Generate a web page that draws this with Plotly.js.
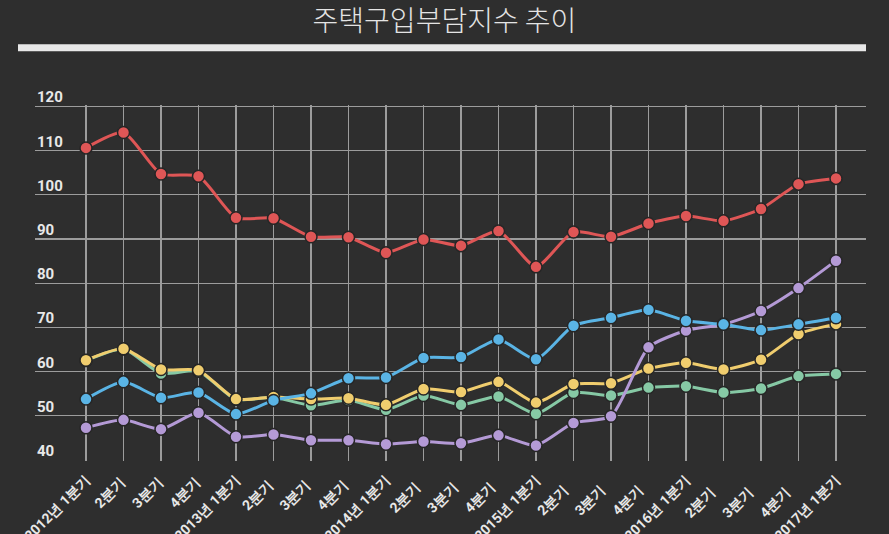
<!DOCTYPE html>
<html>
<head>
<meta charset="utf-8">
<script src="https://cdn.plot.ly/plotly-3.0.1.min.js"></script>
<style>
html,body{margin:0;padding:0;background:#2e2e2e;}
#chart{width:889px;height:534px;}
</style>
</head>
<body>
<div id="chart"></div>
<script>
const categories = ["2012년 1분기","2분기 ","3분기 ","4분기 ","2013년 1분기","2분기  ","3분기  ","4분기  ","2014년 1분기","2분기   ","3분기   ","4분기   ","2015년 1분기","2분기    ","3분기    ","4분기    ","2016년 1분기","2분기     ","3분기     ","4분기     ","2017년 1분기"];
const seriesRed    = [110.6,114.1,104.7,104.2,94.8,94.7,90.5,90.4,86.9,89.9,88.5,91.8,83.7,91.6,90.5,93.5,95.2,94.1,96.8,102.4,103.7];
const seriesGreen  = [62.5,65.1,59.6,60.1,53.7,54.2,52.4,53.6,51.4,54.6,52.5,54.4,50.5,55.3,54.6,56.4,56.7,55.3,56.2,59.0,59.5];
const seriesYellow = [62.6,65.2,60.5,60.3,53.8,54.3,53.8,54.0,52.5,56.1,55.4,57.7,53.0,57.2,57.4,60.7,62.0,60.5,62.7,68.5,70.8];
const seriesBlue   = [53.8,57.7,54.1,55.3,50.4,53.5,55.1,58.5,58.7,63.1,63.3,67.3,62.8,70.4,72.2,74.0,71.5,70.7,69.4,70.7,72.2];
const seriesPurple = [47.3,49.1,47.0,50.7,45.3,45.8,44.5,44.5,43.6,44.2,43.8,45.6,43.3,48.4,49.9,65.5,69.3,70.7,73.7,78.9,85.1];
const yTicks = [40,50,60,70,80,90,100,110,120];

function trace(y, color){
  return {
    x: categories, y: y, type: 'scatter', mode: 'lines+markers',
    line: {color: color, width: 3, shape: 'spline', smoothing: 0.6},
    marker: {color: color, size: 12, line: {color: '#262626', width: 1.5}},
    hoverinfo: 'y'
  };
}
const data = [
  trace(seriesGreen, '#86c9a5'),
  trace(seriesYellow, '#f0cd6e'),
  trace(seriesPurple, '#b49ad6'),
  trace(seriesBlue, '#5ab4e5'),
  trace(seriesRed, '#df5656')
];
// plot area: x 35..866, y from 120 (px 106) to 40 (px 460)
const yMin = 39.8, yMax = 120.3;
const pxPerUnit = 354 / 80;
const layout = {
  width: 889, height: 534,
  paper_bgcolor: '#2e2e2e', plot_bgcolor: '#2e2e2e',
  showlegend: false,
  margin: {l: 35, r: 23, t: Math.round(106 - (yMax-120)*pxPerUnit), b: Math.round(74 - (40-yMin)*pxPerUnit), pad: 0},
  title: {
    text: '주택구입부담지수 추이',
    font: {family: 'Noto Sans CJK KR', size: 28, color: '#e4e4e4', weight: 300},
    x: 0.5, xref: 'container', xanchor: 'center',
    y: 1 - 21/534, yref: 'container', yanchor: 'middle'
  },
  xaxis: {
    type: 'category',
    range: [-1.36, 20.8],
    showgrid: true, gridcolor: '#9c9c9c', gridwidth: 1.2,
    showline: false, zeroline: false, ticks: '',
    tickangle: -45, ticklabelstandoff: 7,
    tickfont: {family: 'Roboto', size: 14, color: '#e8e8e8', weight: 700},
    automargin: false, fixedrange: true
  },
  yaxis: {
    range: [yMin, yMax],
    tickvals: yTicks,
    showgrid: true, gridcolor: '#9c9c9c', gridwidth: 1.2,
    zeroline: false, showline: false, ticks: '',
    showticklabels: false,
    automargin: false, fixedrange: true
  },
  annotations: yTicks.map(v => ({
    text: String(v), xref: 'paper', yref: 'y', x: 0, y: v,
    xanchor: 'left', yanchor: 'bottom', yshift: -2, showarrow: false,
    font: {family: 'Roboto', size: 15, color: '#e8e8e8', weight: 700}
  })),
  shapes: [
    {type: 'rect', xref: 'paper', yref: 'paper', x0: -17/831, x1: 1,
     y0: 1 + (106 - 51 - (yMax-120)*pxPerUnit) / (354 + (yMax-yMin-80)*pxPerUnit),
     y1: 1 + (106 - 44 - (yMax-120)*pxPerUnit) / (354 + (yMax-yMin-80)*pxPerUnit),
     fillcolor: '#e8e8e8', line: {width: 0}, layer: 'above'}
  ]
};
Plotly.newPlot('chart', data, layout, {displayModeBar: false, staticPlot: true});
</script>
</body>
</html>
